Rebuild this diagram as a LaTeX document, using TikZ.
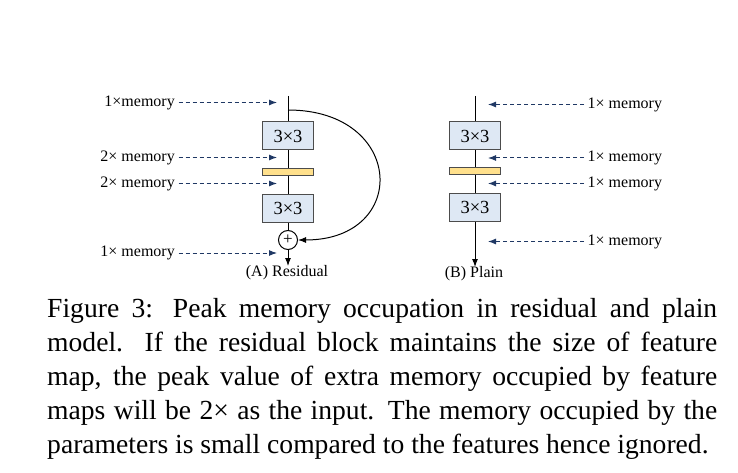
\documentclass[tikz,border=0pt]{standalone}
\usepackage{fontspec}
\setmainfont{Liberation Serif}
\usetikzlibrary{arrows.meta}

\definecolor{convfill}{HTML}{DEE8F4}
\definecolor{bnfill}{HTML}{FFE08C}
\definecolor{memblue}{HTML}{1F3864}

\tikzset{
  convbox/.style={draw=black!70, fill=convfill, line width=1pt, minimum width=51pt,
    minimum height=28pt, inner sep=0pt, font=\fontsize{18.5}{20}\selectfont},
  bnbar/.style={draw=black!70, fill=bnfill, line width=1pt, minimum width=51pt,
    minimum height=7pt, inner sep=0pt},
  addnode/.style={draw, circle, line width=1pt, minimum size=19pt, inner sep=0pt,
    font=\fontsize{17}{17}\selectfont},
  memlabel/.style={font=\fontsize{16}{18}\selectfont, inner sep=3.5pt},
  memarrow/.style={draw=memblue, line width=1pt, dash pattern=on 4pt off 3pt,
    -{Latex[length=8pt,width=6pt]}},
  flow/.style={line width=1pt},
  flowtip/.style={line width=1pt, -{Latex[length=8pt,width=6pt]}},
  sublabel/.style={font=\fontsize{16}{18}\selectfont, inner sep=0pt},
  capline/.style={anchor=base west, inner sep=0pt, font=\fontsize{27.6}{34}\selectfont},
}

\begin{document}
\begin{tikzpicture}[x=1pt,y=-1pt]
\useasboundingbox (0,0) rectangle (738,473);
% (A) residual
\coordinate (rtop) at (288,96);
\coordinate (rsplit) at (288,110);
\node[convbox] (rconv1) at (288,136) {3×3};
\node[bnbar] (rbn) at (288,171.8) {};
\node[convbox] (rconv2) at (288,208) {3×3};
\node[addnode] (rplus) at (288,240) {+};
\coordinate (rout) at (288,266);
\draw[flow] (rtop) -- (rconv1) -- (rbn) -- (rconv2) -- (rplus);
\draw[flowtip] (rplus) -- (rout);
\draw[flowtip] (rsplit) .. controls (405,110) and (410,240) .. (rplus.east);
\node[sublabel] (rname) at (287,273) {(A) Residual};
\node[memlabel, anchor=east] (rm1) at (178.5,102.5) {1×memory};
\node[memlabel, anchor=east] (rm2) at (178.5,157.5) {2× memory};
\node[memlabel, anchor=east] (rm3) at (178.5,183.5) {2× memory};
\node[memlabel, anchor=east] (rm4) at (178.5,253) {1× memory};
\coordinate (rt1) at (277,102.5);
\coordinate (rt2) at (277,157.5);
\coordinate (rt3) at (277,183.5);
\coordinate (rt4) at (277,253);
\draw[memarrow] (rm1) -- (rt1);
\draw[memarrow] (rm2) -- (rt2);
\draw[memarrow] (rm3) -- (rt3);
\draw[memarrow] (rm4) -- (rt4);
% (B) plain
\coordinate (ptop) at (475,96);
\node[convbox] (pconv1) at (475,136) {3×3};
\node[bnbar] (pbn) at (475,171.5) {};
\node[convbox] (pconv2) at (475,207.5) {3×3};
\coordinate (pout) at (475,267);
\draw[flow] (ptop) -- (pconv1) -- (pbn) -- (pconv2);
\draw[flowtip] (pconv2) -- (pout);
\node[sublabel] (pname) at (474,274) {(B) Plain};
\node[memlabel, anchor=west] (pm1) at (584,104.5) {1× memory};
\node[memlabel, anchor=west] (pm2) at (584,158) {1× memory};
\node[memlabel, anchor=west] (pm3) at (584,183.5) {1× memory};
\node[memlabel, anchor=west] (pm4) at (584,241.5) {1× memory};
\coordinate (pt1) at (488,104.5);
\coordinate (pt2) at (488,158);
\coordinate (pt3) at (488,183.5);
\coordinate (pt4) at (488,241.5);
\draw[memarrow] (pm1) -- (pt1);
\draw[memarrow] (pm2) -- (pt2);
\draw[memarrow] (pm3) -- (pt3);
\draw[memarrow] (pm4) -- (pt4);
% caption
\node[capline] (cap1) at (47,317.3) {\hbox to 670pt{Figure 3: Peak memory occupation in residual and plain}};
\node[capline] (cap2) at (47,351.3) {\hbox to 670pt{model. If the residual block maintains the size of feature}};
\node[capline] (cap3) at (47,385.3) {\hbox to 670pt{map, the peak value of extra memory occupied by feature}};
\node[capline] (cap4) at (47,419.3) {\hbox to 670pt{maps will be 2× as the input. The memory occupied by the}};
\node[capline] (cap5) at (47,453.3) {parameters is small compared to the features hence ignored.};
\end{tikzpicture}
\end{document}
